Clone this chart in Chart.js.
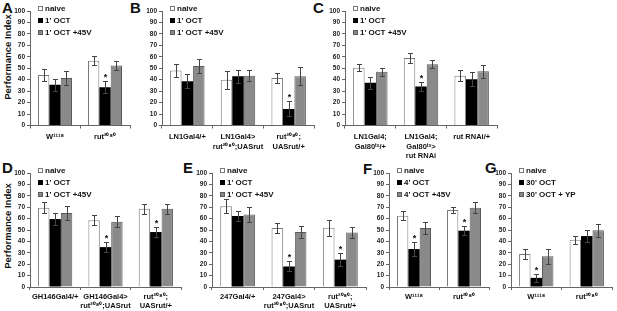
<!DOCTYPE html>
<html><head><meta charset="utf-8">
<script src="https://cdn.jsdelivr.net/npm/chart.js@4.4.1/dist/chart.umd.min.js"></script>
<style>
body{margin:0;background:#fff;width:617px;height:311px;overflow:hidden;position:relative;font-family:"Liberation Sans",Arial,sans-serif;}
canvas{position:absolute;}
.lt{position:absolute;font-weight:bold;font-size:15px;line-height:15px;color:#111;}
.yt{position:absolute;font-weight:bold;font-size:9.5px;line-height:10px;white-space:nowrap;color:#111;transform:translate(-50%,-50%) rotate(-90deg);}
</style></head><body>
<div class="lt" style="left:2px;top:0px">A</div>
<div class="lt" style="left:130px;top:0px">B</div>
<div class="lt" style="left:313px;top:0px">C</div>
<div class="lt" style="left:2px;top:160px">D</div>
<div class="lt" style="left:183px;top:160px">E</div>
<div class="lt" style="left:363px;top:161px">F</div>
<div class="lt" style="left:485px;top:160px">G</div>
<div class="yt" style="left:8px;top:57px">Performance Index</div>
<div class="yt" style="left:8px;top:226px">Performance Index</div>
<canvas id="cA"></canvas><canvas id="cB"></canvas><canvas id="cC"></canvas>
<canvas id="cD"></canvas><canvas id="cE"></canvas><canvas id="cF"></canvas><canvas id="cG"></canvas>
<script>
// ---- data ----
const yTicks = [0,10,20,30,40,50,60,70,80,90,100];

const catsA = ['W¹¹¹⁸', 'rut²⁰⁸⁰'];
const naiveA = [44, 56.5],  naiveErrA = [5.2, 4];
const octA = [35.5, 33.5],  octErrA = [5.2, 5.5], octStarA = [false, true];
const v45A = [41.5, 52.5],  v45ErrA = [6, 4];

const catsB = ['LN1Gal4/+', ['LN1Gal4>', 'rut²⁰⁸⁰;UASrut'], ['rut²⁰⁸⁰;', 'UASrut/+']];
const naiveB = [48, 40, 41.5], naiveErrB = [6, 8, 4];
const octB = [38.7, 43, 14.5], octErrB = [6, 5.5, 6.5], octStarB = [false, false, true];
const v45B = [52, 43.5, 43],   v45ErrB = [6, 5, 8];

const catsC = [['LN1Gal4;', 'Gal80ᵗˢ/+'], ['LN1Gal4;', 'Gal80ᵗˢ>', 'rut RNAi'], 'rut RNAi/+'];
const naiveC = [50.5, 59, 43.5], naiveErrC = [3, 4.5, 5];
const octC = [37.3, 34, 40.5],   octErrC = [5, 4, 6], octStarC = [false, true, false];
const v45C = [47, 53.5, 47.4],   v45ErrC = [3.5, 3.5, 5.5];

const catsD = ['GH146Gal4/+', ['GH146Gal4>', 'rut²⁰⁸⁰;UASrut'], ['rut²⁰⁸⁰;', 'UASrut/+']];
const naiveD = [69.6, 58.5, 68.7], naiveErrD = [5, 4.5, 4.4];
const octD = [59.6, 35, 48.2],     octErrD = [5, 4.5, 4.4], octStarD = [false, true, true];
const v45D = [65, 57.3, 68.7],     v45ErrD = [6, 4.7, 4.4];

const catsE = ['247Gal4/+', ['247Gal4>', 'rut²⁰⁸⁰;UASrut'], ['rut²⁰⁸⁰;', 'UASrut/+']];
const naiveE = [70.8, 51.8, 52], naiveErrE = [6, 4.7, 7];
const octE = [62.3, 18, 24],     octErrE = [4.4, 4.4, 6], octStarE = [false, true, true];
const v45E = [63.5, 48.2, 47.7], v45ErrE = [6.7, 5.3, 5];

const catsF = ['W¹¹¹⁸', 'rut²⁰⁸⁰'];
const naiveF = [62.6, 67.5], naiveErrF = [3.8, 2.6];
const octF = [33.3, 49.4],   octErrF = [6, 4], octStarF = [true, true];
const v45F = [51.8, 69.6],   v45ErrF = [5.3, 5];

const catsG = ['W¹¹¹⁸', 'rut²⁰⁸⁰'];
const naiveG = [29, 41.5], naiveErrG = [4.4, 3.5];
const octG = [8, 44.7],    octErrG = [3.7, 5], octStarG = [true, false];
const ypG = [27, 49.7],    ypErrG = [6.4, 6];

// ---- plugins ----
const FONT = '"Liberation Sans", Arial, sans-serif';
Chart.defaults.font.family = FONT;
const errPlugin = {
  id: 'errbars',
  afterDatasetsDraw(chart) {
    const ctx = chart.ctx, yS = chart.scales.y;
    chart.data.datasets.forEach((ds, i) => {
      const meta = chart.getDatasetMeta(i);
      meta.data.forEach((bar, j) => {
        const v = ds.data[j], e = ds.errors[j];
        const x = Math.round(bar.x) + 0.5;
        const yT = Math.round(yS.getPixelForValue(v + e)) + 0.5;
        const yB = Math.round(yS.getPixelForValue(v - e)) + 0.5;
        ctx.save();
        ctx.strokeStyle = '#444'; ctx.lineWidth = 1;
        ctx.beginPath();
        ctx.moveTo(x, yT); ctx.lineTo(x, yB);
        ctx.moveTo(x - 2.5, yT); ctx.lineTo(x + 2.5, yT);
        ctx.moveTo(x - 2.5, yB); ctx.lineTo(x + 2.5, yB);
        ctx.stroke();
        if (ds.stars && ds.stars[j]) {
          ctx.fillStyle = '#111';
          ctx.font = 'bold 9px ' + FONT;
          ctx.textAlign = 'center'; ctx.textBaseline = 'alphabetic';
          ctx.fillText('*', x, yT - 2);
        }
        ctx.restore();
      });
    });
  }
};
const legendPlugin = {
  id: 'boxLegend',
  afterDraw(chart, args, opts) {
    const a = chart.chartArea, ctx = chart.ctx;
    chart.data.datasets.forEach((ds, i) => {
      const y = Math.round(a.top + opts.rows[i]);
      const x = Math.round(a.left + 8);
      ctx.save();
      ctx.fillStyle = ds.backgroundColor;
      ctx.fillRect(x, y - 2, 5, 5);
      if (ds.borderWidth) { ctx.strokeStyle = ds.borderColor; ctx.lineWidth = 1; ctx.strokeRect(x + 0.5, y - 1.5, 4, 4); }
      ctx.fillStyle = '#111';
      ctx.font = 'bold 8px ' + FONT;
      ctx.textBaseline = 'middle'; ctx.textAlign = 'left';
      ctx.fillText(ds.label, x + 7, y + 0.5);
      ctx.restore();
    });
  }
};

function series(label, data, errors, kind, stars) {
  const st = {
    white: { backgroundColor: '#ffffff', borderColor: '#7a7a7a', borderWidth: 1 },
    black: { backgroundColor: '#000000', borderColor: '#000000', borderWidth: 0 },
    gray:  { backgroundColor: '#8a8a8a', borderColor: '#5a5a5a', borderWidth: 1 }
  }[kind];
  return Object.assign({ label, data, errors, stars }, st);
}

function panel(id, cfg) {
  const cv = document.getElementById(id);
  const Y = 30, PR = 8;
  const w = cfg.right - cfg.left + Y + PR;
  cv.width = w; cv.height = cfg.canvasH;
  cv.style.left = (cfg.left - Y) + 'px';
  cv.style.top = cfg.canvasTop + 'px';
  cv.style.width = w + 'px'; cv.style.height = cfg.canvasH + 'px';
  const xH = cfg.canvasH - (cfg.bottom - cfg.canvasTop);
  new Chart(cv, {
    type: 'bar',
    data: { labels: cfg.labels, datasets: cfg.datasets },
    plugins: [errPlugin, legendPlugin],
    options: {
      responsive: false, animation: false, devicePixelRatio: 1,
      layout: { padding: { top: cfg.top - cfg.canvasTop, right: PR, left: 0, bottom: 0 } },
      datasets: { bar: { barPercentage: 1.0, categoryPercentage: 0.68 } },
      plugins: { legend: { display: false }, tooltip: { enabled: false }, boxLegend: { rows: cfg.rows } },
      scales: {
        x: {
          grid: { display: true, drawOnChartArea: false, drawTicks: true, tickLength: 3, color: '#666', offset: true },
          border: { display: true, color: '#666' },
          ticks: { color: '#111', padding: cfg.xPad, maxRotation: 0, autoSkip: false, font: { size: 7.5, weight: 'bold', lineHeight: 1.25 } },
          afterFit(s) { s.height = xH; s.paddingLeft = 0; s.paddingRight = 0; }
        },
        y: {
          min: 0, max: 100,
          afterBuildTicks(s) { s.ticks = yTicks.map(v => ({ value: v })); },
          grid: { display: true, drawOnChartArea: false, drawTicks: true, tickLength: 3, color: '#666' },
          border: { display: true, color: '#666' },
          ticks: { color: '#222', padding: 2, font: { size: 6.5, weight: 'bold' } },
          afterFit(s) { s.width = Y; s.paddingTop = 0; s.paddingBottom = 0; }
        }
      }
    }
  });
}

const row1 = { canvasTop: 0, canvasH: 162, top: 11, bottom: 125.5, xPad: 4, rows: [-3.5, 8.5, 20.5] };
const row2 = { canvasTop: 150, canvasH: 161, top: 173, bottom: 287, xPad: 2, rows: [-3, 9, 20.5] };

panel('cA', Object.assign({}, row1, { left: 30, right: 130, labels: catsA, datasets: [
  series('naive', naiveA, naiveErrA, 'white'),
  series("1' OCT", octA, octErrA, 'black', octStarA),
  series("1' OCT +45V", v45A, v45ErrA, 'gray')] }));
panel('cB', Object.assign({}, row1, { left: 162, right: 314, labels: catsB, datasets: [
  series('naive', naiveB, naiveErrB, 'white'),
  series("1' OCT", octB, octErrB, 'black', octStarB),
  series("1' OCT +45V", v45B, v45ErrB, 'gray')] }));
panel('cC', Object.assign({}, row1, { left: 345, right: 497, labels: catsC, datasets: [
  series('naive', naiveC, naiveErrC, 'white'),
  series("1' OCT", octC, octErrC, 'black', octStarC),
  series("1' OCT +45V", v45C, v45ErrC, 'gray')] }));
panel('cD', Object.assign({}, row2, { left: 30, right: 181, labels: catsD, datasets: [
  series('naive', naiveD, naiveErrD, 'white'),
  series("1' OCT", octD, octErrD, 'black', octStarD),
  series("1' OCT +45V", v45D, v45ErrD, 'gray')] }));
panel('cE', Object.assign({}, row2, { left: 212, right: 366, labels: catsE, datasets: [
  series('naive', naiveE, naiveErrE, 'white'),
  series("1' OCT", octE, octErrE, 'black', octStarE),
  series("1' OCT +45V", v45E, v45ErrE, 'gray')] }));
panel('cF', Object.assign({}, row2, { left: 389, right: 489, labels: catsF, datasets: [
  series('naive', naiveF, naiveErrF, 'white'),
  series("4' OCT", octF, octErrF, 'black', octStarF),
  series("4' OCT +45V", v45F, v45ErrF, 'gray')] }));
panel('cG', Object.assign({}, row2, { left: 511, right: 612, labels: catsG, datasets: [
  series('naive', naiveG, naiveErrG, 'white'),
  series("30' OCT", octG, octErrG, 'black', octStarG),
  series("30' OCT + YP", ypG, ypErrG, 'gray')] }));
</script>
</body></html>
